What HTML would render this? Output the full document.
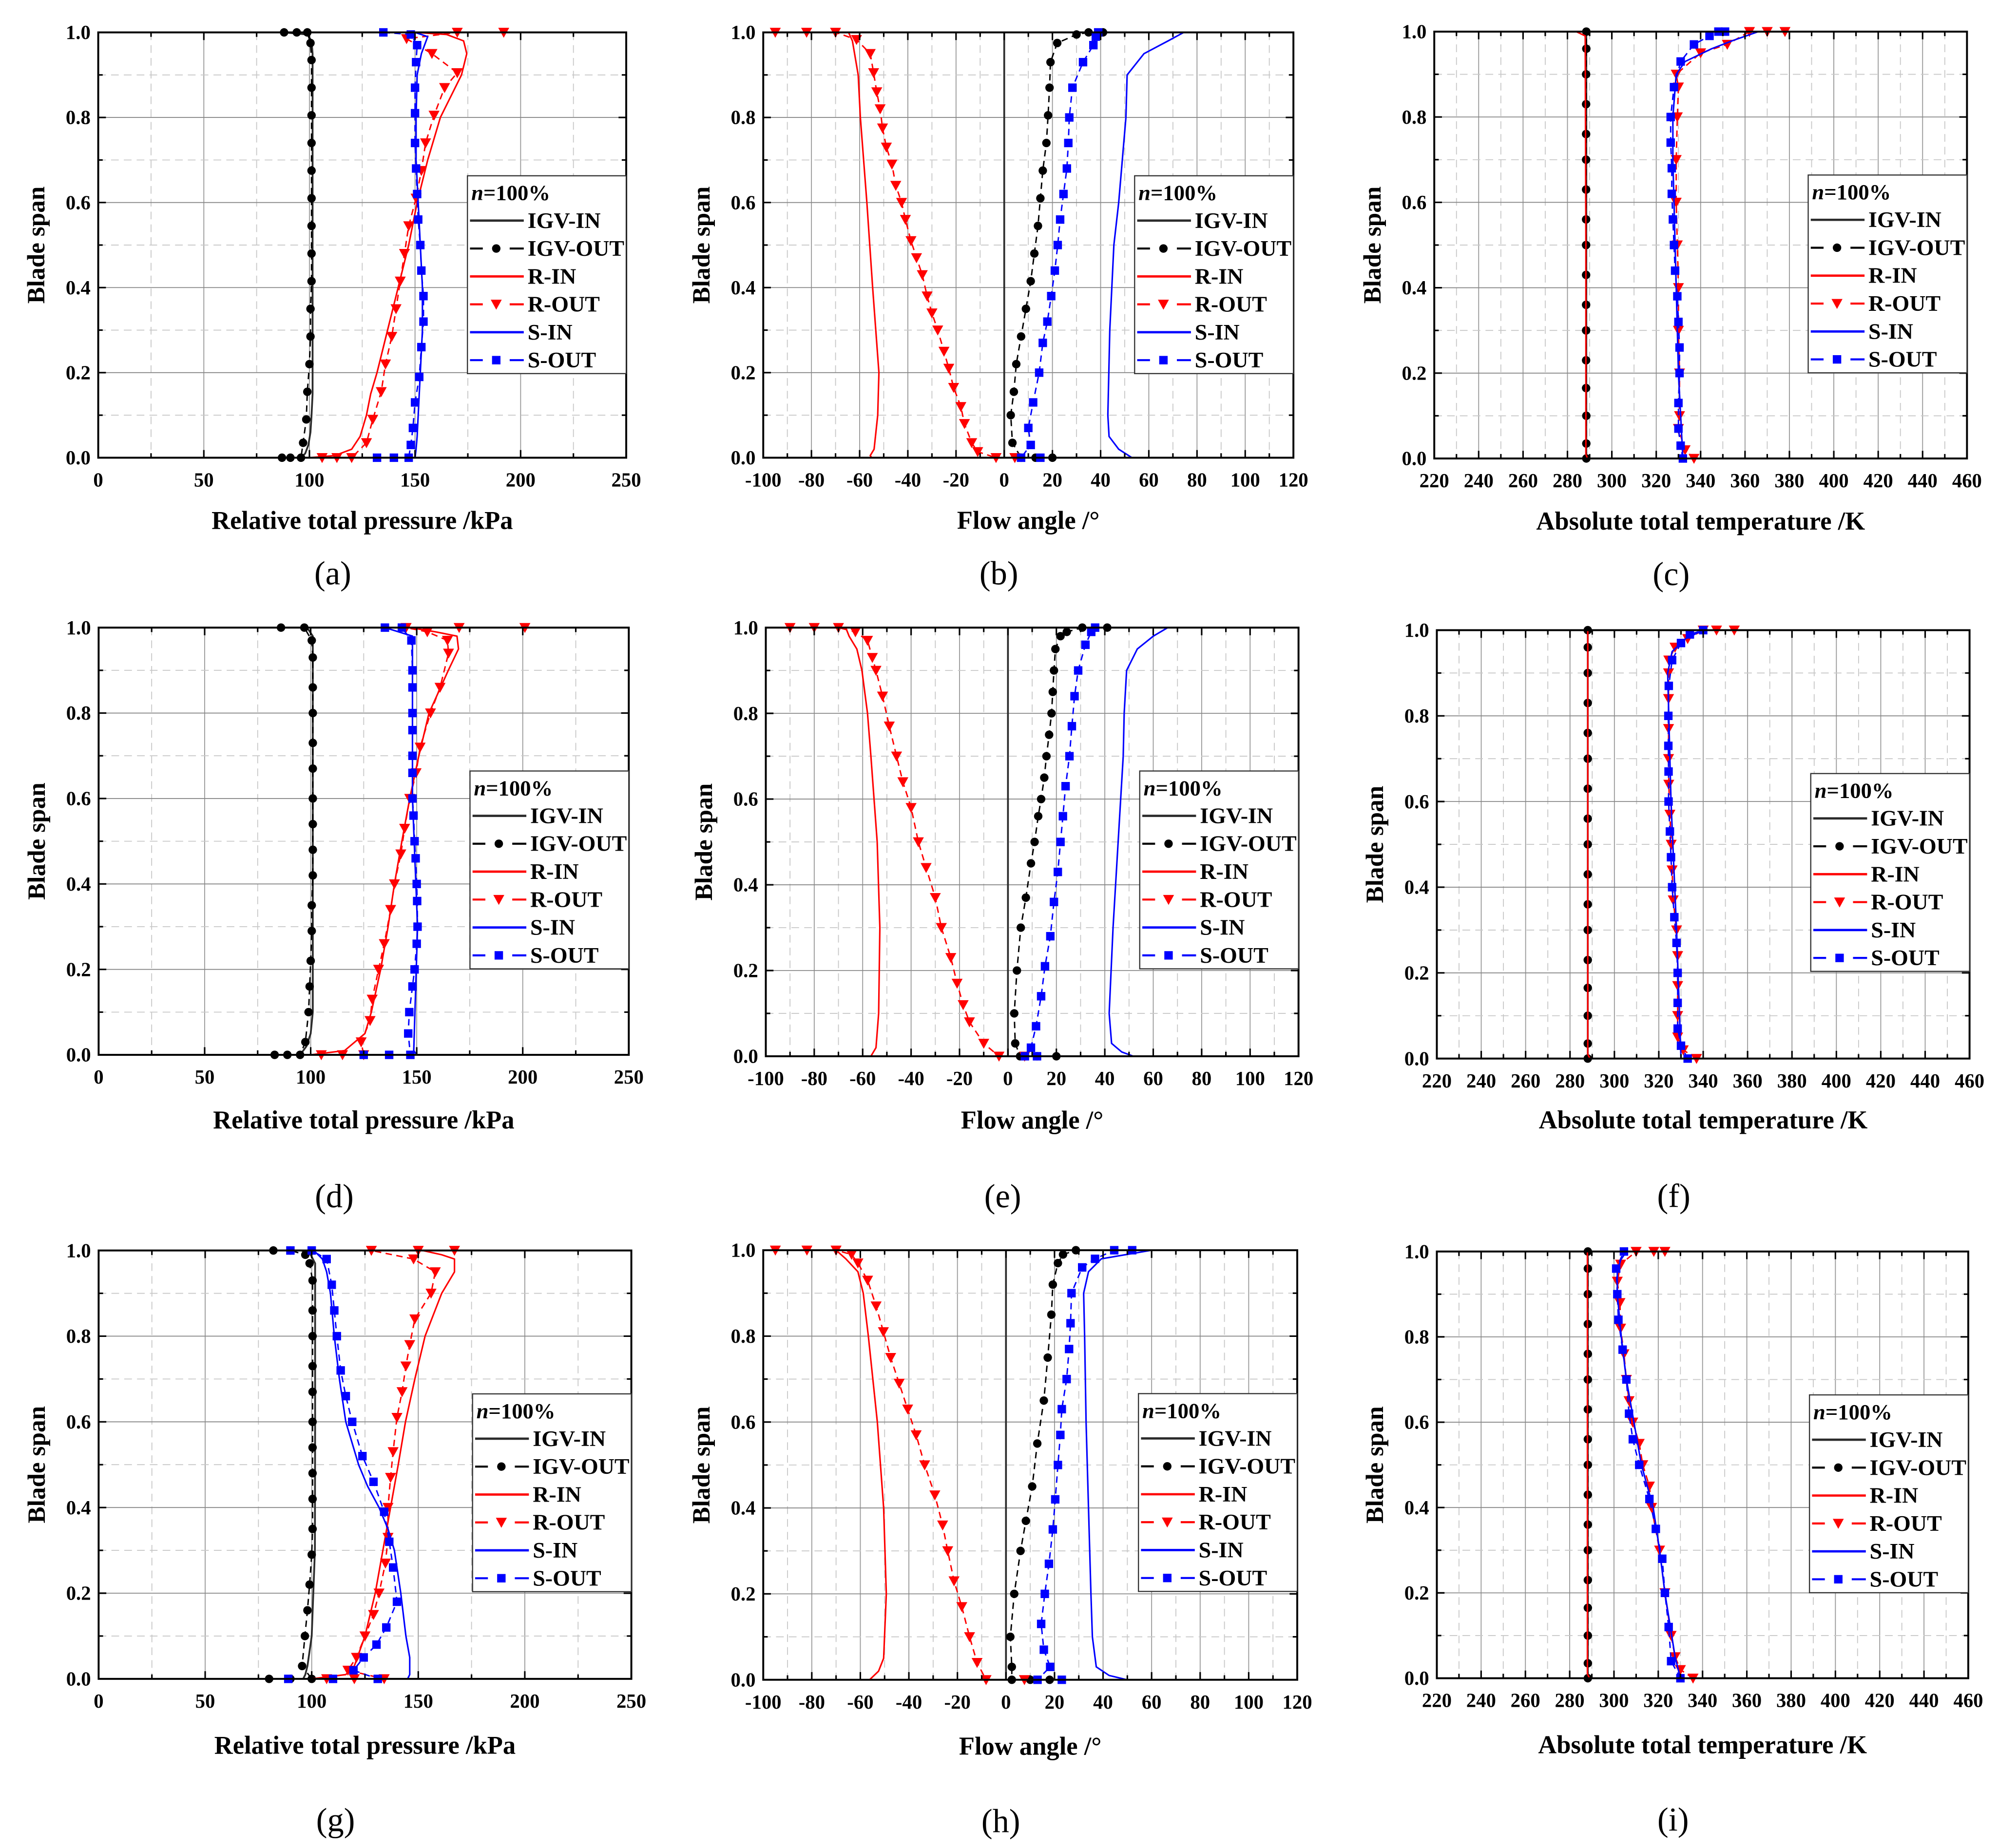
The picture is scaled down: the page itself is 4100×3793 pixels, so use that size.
<!DOCTYPE html>
<html><head><meta charset="utf-8"><title>Blade span profiles</title>
<style>
html,body{margin:0;padding:0;background:#fff;}
svg{display:block;font-family:"Liberation Serif","Times New Roman",serif;}
</style></head>
<body>
<svg id="fig" xmlns="http://www.w3.org/2000/svg" width="4100" height="3793" viewBox="0 0 1560.2 1443.4"></svg>
<script>
// ---------- shared tick arrays ----------
const spanTicks=[0,0.2,0.4,0.6,0.8,1.0];
const spanMinor=[0.1,0.3,0.5,0.7,0.9];
const pressTicks=[0,50,100,150,200,250];
const pressMinor=[25,75,125,175,225];
const angleTicks=[-100,-80,-60,-40,-20,0,20,40,60,80,100,120];
const angleMinor=[-90,-70,-50,-30,-10,10,30,50,70,90,110];
const tempTicks=[220,240,260,280,300,320,340,360,380,400,420,440,460];
const tempMinor=[230,250,270,290,310,330,350,370,390,410,430,450];
const seriesNames=["IGV-IN","IGV-OUT","R-IN","R-OUT","S-IN","S-OUT"];
const outSpan16=[0,0.035,0.1,0.165,0.23,0.3,0.36,0.43,0.5,0.56,0.63,0.7,0.76,0.83,0.9,0.96,1];

// ---------- panel (a) ----------
const aIgvInSpan=[0,0.01,0.03,0.06,0.1,0.15,0.2,0.4,0.6,0.8,0.95,0.98,0.995,1];
const aIgvInVal=[96,98,99.5,100.5,101,101.5,101.5,101.5,101.5,101.5,101.5,101,99,88];
const aIgvOutSpan=[0,0,0,0.035,0.09,0.155,0.22,0.285,0.35,0.415,0.48,0.545,0.61,0.675,0.74,0.805,0.87,0.935,0.975,1,1,1];
const aIgvOutVal=[87,91,96,97,98.5,99,100,100.5,100.5,101,101,101,101,101,101,101,101,101,100.5,99,94,88];
const aRInSpan=[0,0.005,0.02,0.05,0.1,0.15,0.2,0.3,0.4,0.5,0.6,0.7,0.8,0.9,0.95,0.98,0.995,1,1];
const aRInVal=[100,112,120,124,127,129,132,137,142,147,151,156,162,172,174.5,173,165,150,120];
const aROutSpan=[0,0,0,0.035,0.09,0.155,0.22,0.285,0.35,0.415,0.48,0.545,0.61,0.675,0.74,0.805,0.87,0.905,0.95,0.985,1,1];
const aROutVal=[106,113,120,127,130,134,136,139,141,143,145,147,150.5,153,155,159,164,170,158,146,170,192];
const aSInSpan=[0,0.02,0.05,0.1,0.2,0.3,0.4,0.5,0.6,0.7,0.8,0.9,0.95,0.99,1,1];
const aSInVal=[150,150.5,151,151.5,152.5,153.5,153.5,152.5,151.5,150.5,150.5,151,153,156,150,120];
const aSOutSpan=[0,0,0,0.03,0.07,0.13,0.19,0.26,0.32,0.38,0.44,0.5,0.56,0.62,0.68,0.74,0.81,0.87,0.93,0.97,0.995,1];
const aSOutVal=[132,140,147,148,149,150,152,153,154,154,153,152.5,151.5,151,150.5,150,150,150,150.5,151,148,135];

// ---------- panel (b) ----------
const bIgvInSpan=[0,1];
const bIgvInVal=[0,0];
const bIgvOutSpan=[0,0,0,0.035,0.1,0.155,0.22,0.285,0.35,0.415,0.48,0.545,0.61,0.675,0.74,0.805,0.87,0.93,0.975,0.995,1,1];
const bIgvOutVal=[20,13,7,3.4,2.7,4,5,7,9,11,12.5,14,15,16,17.5,18.2,18.8,19.2,22,30,35,41];
const bRInSpan=[0,0,0.005,0.02,0.1,0.2,0.4,0.6,0.8,0.9,0.98,1,1];
const bRInVal=[-29,-55,-55.6,-54,-52.5,-52,-54.6,-57,-59.7,-60.6,-63,-64.6,-95];
const bROutSpan=[0,0,0.014,0.035,0.08,0.12,0.165,0.21,0.25,0.3,0.34,0.38,0.43,0.47,0.51,0.56,0.6,0.64,0.69,0.73,0.775,0.82,0.86,0.905,0.95,0.983,1,1,1];
const bROutVal=[4.4,-3.4,-11,-13.5,-16.5,-18,-21,-23,-25,-27.6,-30,-32,-34,-36.4,-38.7,-41,-42.6,-45,-46.6,-48.9,-50.5,-51.5,-52.9,-54.2,-55.6,-61.3,-70,-82,-95];
const bSInSpan=[0,0.02,0.05,0.1,0.3,0.5,0.6,0.7,0.8,0.9,0.95,0.98,1,1];
const bSInVal=[53,47.5,43.5,43,43.8,45.5,47.5,49,50.5,51,58,68,74.5,65];
const bSOutSpan=[0,0,0.03,0.07,0.13,0.2,0.27,0.32,0.38,0.44,0.5,0.56,0.62,0.68,0.74,0.8,0.87,0.93,0.97,0.99,1];
const bSOutVal=[15,7,11,10,12,14.5,16,17.9,19.5,21,22.2,23.2,24.6,26,26.6,27,28.3,32.7,37,38,39];

// ---------- panel (c) ----------
const cIgvInSpan=[0,1];
const cIgvInVal=[288.5,288.5];
const cIgvOutSpan=outSpan16;
const cIgvOutVal=[288.5,288.5,288.5,288.4,288.4,288.4,288.4,288.4,288.4,288.4,288.4,288.4,288.4,288.4,288.4,288.5,288.5];
const cRInSpan=[0,0,0.01,0.5,0.99,1];
const cRInVal=[311,289,288.3,288.3,288,284];
const cROutSpan=[0,0.02,0.07,0.1,0.2,0.3,0.4,0.5,0.6,0.7,0.8,0.87,0.9,0.95,0.97,1,1,1];
const cROutVal=[337,333,330,330.5,330.5,330,330,329.5,329,329,329.5,330,329,340,352,362,370,378];
const cSInSpan=[0,0.2,0.5,0.7,0.8,0.9,0.93,0.96,0.98,1];
const cSInVal=[332,330,328.5,327.5,327.5,329,333,345,355,366];
const cSOutSpan=[0,0.03,0.07,0.13,0.2,0.26,0.32,0.38,0.44,0.5,0.56,0.62,0.68,0.74,0.8,0.87,0.93,0.97,0.99,1,1];
const cSOutVal=[332,331,330,330,330.5,330.5,330,329.5,328.5,328,327.5,327,327,326.5,326.5,328,331,337,344,348,351];

// ---------- panel (d) ----------
const dIgvInSpan=[0,0.02,0.05,0.1,0.3,0.6,0.9,0.98,0.995,1,1];
const dIgvInVal=[95,98,100,101,101,101,101,101,99,97,85];
const dIgvOutSpan=[0,0,0,0.03,0.1,0.16,0.22,0.29,0.35,0.42,0.48,0.54,0.6,0.67,0.73,0.8,0.86,0.93,0.97,1,1];
const dIgvOutVal=[83,89,95,97.5,99,99.5,100,100.5,100.5,101,101,101,101,101,101,101,101,101,100.5,97,86];
const dRInSpan=[0,0.01,0.05,0.1,0.2,0.3,0.4,0.5,0.6,0.7,0.8,0.9,0.95,0.98,0.99,1];
const dRInVal=[100,116,125.6,128.6,133,136.5,139.5,143,146.7,151,155.8,164.9,169.7,169,159,147];
const dROutSpan=[0,0,0,0.03,0.08,0.13,0.2,0.26,0.34,0.4,0.47,0.53,0.6,0.66,0.72,0.8,0.86,0.94,0.97,0.99,1,1,1];
const dROutVal=[105,115,125,123.8,128,129,132,134.7,137.7,139.5,142.5,144.3,146.7,149.7,151.6,156.5,161,165,164.5,155,145,170,201];
const dSInSpan=[0,0.01,0.3,0.6,0.9,0.98,1,1];
const dSInVal=[150,148.6,150.4,148,148,148,135,117];
const dSOutSpan=[0,0,0,0.05,0.1,0.16,0.2,0.26,0.3,0.36,0.4,0.46,0.5,0.56,0.6,0.66,0.7,0.76,0.8,0.86,0.9,0.97,1,1];
const dSOutVal=[125,137,147,146,146.5,148,149,150,150.4,150.2,150,149.5,149,148.5,148,148,148,148,148,148,148,147.5,143,135];

// ---------- panel (e) ----------
const eIgvInSpan=[0,1];
const eIgvInVal=[0,0];
const eIgvOutSpan=[0,0,0,0.03,0.1,0.2,0.3,0.37,0.45,0.5,0.56,0.6,0.65,0.7,0.75,0.8,0.85,0.9,0.95,0.98,0.99,1,1];
const eIgvOutVal=[20,12,5,3,2.6,3.7,5.3,7.4,9.5,11,12.5,13.7,15,15.9,17,18,18.5,19,19.6,21.7,24.3,30.7,41];
const eRInSpan=[0,0,0.02,0.1,0.3,0.5,0.7,0.8,0.9,0.95,0.98,1,1];
const eRInVal=[-40.7,-56.6,-54.5,-53.4,-52.9,-54,-56.6,-58,-60.3,-62.4,-65.6,-67,-90];
const eROutSpan=[0,0,0.03,0.08,0.12,0.17,0.23,0.3,0.37,0.44,0.5,0.58,0.64,0.7,0.77,0.84,0.9,0.93,0.97,0.99,1,1,1];
const eROutVal=[6.9,-3.7,-10,-15.9,-18.5,-21,-23.6,-27.5,-30,-33.8,-37,-40,-43.4,-46,-49,-51.8,-54.5,-56,-58,-63,-70,-80,-90];
const eSInSpan=[0,0.01,0.03,0.1,0.3,0.5,0.7,0.8,0.9,0.95,0.98,1];
const eSInVal=[51.8,47,42.8,41.8,43.4,45.5,47.6,48,49,53.4,60,66];
const eSOutSpan=[0,0,0.02,0.07,0.14,0.21,0.28,0.36,0.43,0.5,0.56,0.63,0.7,0.77,0.84,0.9,0.96,0.99,1];
const eSOutVal=[12,7,9.5,11.6,13.7,15.3,17.5,19,20.6,21.7,22.7,23.8,25.4,26.4,27.5,29,32,34.4,36];

// ---------- panel (f) ----------
const fIgvInSpan=[0,1];
const fIgvInVal=[288,288];
const fIgvOutSpan=outSpan16;
const fIgvOutVal=[288,288,288,288,288,288,288,288,288,288,288,288,288,288,288,288,288];
const fRInSpan=[0,0,0.01,0.5,1];
const fRInVal=[306.5,289,288,288,288];
const fROutSpan=[0,0.02,0.05,0.1,0.17,0.24,0.3,0.37,0.44,0.5,0.57,0.64,0.7,0.77,0.84,0.9,0.93,0.96,0.98,1,1,1];
const fROutVal=[337,331,328.5,328.5,328.5,328.5,328,326.5,326,325.6,325,324.5,324.4,324.4,324.4,324.4,324.5,327.3,333,340,346,354];
const fSInSpan=[0,0.3,0.6,0.9,0.95,0.98,1];
const fSInVal=[330,328,325.5,324,326,332,340];
const fSOutSpan=[0,0.03,0.07,0.13,0.2,0.27,0.33,0.4,0.47,0.53,0.6,0.67,0.73,0.8,0.87,0.93,0.97,0.99,1];
const fSOutVal=[333,330,328.5,328.5,328.5,328,327,326,325.5,325,324.4,324.4,324.3,324.3,324.5,326,330,334,340];

// ---------- panel (g) ----------
const gIgvInSpan=[0,0.01,0.03,0.1,0.3,0.6,0.9,0.97,0.995,1,1];
const gIgvInVal=[96,97,98,100,101.5,101.6,101.6,101.6,99,95,80];
const gIgvOutSpan=[0,0,0,0.03,0.1,0.16,0.22,0.29,0.35,0.42,0.48,0.54,0.6,0.67,0.73,0.8,0.86,0.93,0.97,0.99,1,1];
const gIgvOutVal=[80,90,100,95.5,96.8,98,99,100,100.4,100.4,100.4,100.4,100.4,100.4,100.4,100.4,100.4,100.4,99,97,90,82];
const gRInSpan=[0,0.01,0.03,0.1,0.2,0.3,0.4,0.5,0.6,0.7,0.8,0.9,0.95,0.98,0.99,1];
const gRInVal=[100,116,120,125,129.8,133.4,137,140.6,144,148.4,153.2,161,167,167,161,152];
const gROutSpan=[0,0,0,0.02,0.05,0.1,0.15,0.2,0.27,0.33,0.4,0.47,0.53,0.61,0.67,0.73,0.78,0.84,0.9,0.95,0.98,1,1,1];
const gROutVal=[107,120,134,117,121,125,129,131.6,134.6,135.8,135.8,137,138.2,140,142.4,144.2,146,148.4,156,158,147.8,128,150,167];
const gSInSpan=[0,0.01,0.05,0.1,0.2,0.3,0.35,0.4,0.45,0.5,0.6,0.7,0.8,0.9,0.95,0.98,1,1];
const gSInVal=[145,146,146,144.2,141.8,138.8,135.8,131.6,126.2,122,116,113,110.6,108.8,107,105,101,85];
const gSOutSpan=[0,0,0,0.02,0.05,0.08,0.12,0.18,0.26,0.32,0.39,0.46,0.52,0.6,0.66,0.72,0.8,0.86,0.92,0.98,1,1];
const gSOutVal=[89,110,131,119.6,124.4,130.4,135,140,138.2,136.4,134,129,123.8,119,116,113.6,111.8,110.6,109.4,107,100,90];

// ---------- panel (h) ----------
const hIgvInSpan=[0,1];
const hIgvInVal=[0,0];
const hIgvOutSpan=[0,0,0,0.03,0.1,0.2,0.3,0.37,0.45,0.55,0.65,0.75,0.85,0.92,0.97,0.99,1];
const hIgvOutVal=[18,10,2.4,2.4,1.8,3.4,6,8.2,10.8,12.9,15.6,17.2,18.7,19.3,21.4,23.5,28.8];
const hRInSpan=[0,0,0.02,0.05,0.2,0.4,0.6,0.8,0.9,0.95,0.98,1,1];
const hRInVal=[-45,-56.2,-52.5,-50.4,-49.3,-50.4,-53,-56.7,-58.8,-61,-66,-70,-95];
const hROutSpan=[0,0,0.04,0.1,0.17,0.23,0.3,0.36,0.43,0.5,0.57,0.63,0.69,0.75,0.81,0.87,0.93,0.97,0.99,1,1,1];
const hROutVal=[7.6,-8.2,-11.9,-15,-18.2,-21.4,-24,-26.1,-29.3,-33.5,-37,-40.5,-44,-47.5,-50.5,-53.5,-57,-61,-63.6,-70,-82,-95];
const hSInSpan=[0,0.01,0.03,0.1,0.2,0.4,0.6,0.8,0.9,0.95,0.98,1];
const hSInVal=[49.8,42.5,37.2,35.6,35,34,33,32.4,32,34,39.3,60];
const hSOutSpan=[0,0,0.03,0.07,0.13,0.2,0.27,0.35,0.42,0.5,0.57,0.63,0.7,0.77,0.83,0.9,0.96,0.98,1,1];
const hSOutVal=[23,13,18.2,15.6,14.5,16,17.7,19.3,20.3,21.4,22.4,23,25,26,26.6,27,31.4,36.7,44.6,52];

// ---------- panel (i) ----------
const iIgvInSpan=[0,1];
const iIgvInVal=[288.2,288.2];
const iIgvOutSpan=outSpan16;
const iIgvOutVal=[288.2,288.2,288.2,288.2,288.2,288.2,288.2,288.2,288.2,288.2,288.2,288.2,288.2,288.2,288.2,288.2,288.2];
const iRInSpan=[0,0,0.01,0.5,1];
const iRInVal=[302.7,289,288,288,288];
const iROutSpan=[0,0.02,0.05,0.1,0.2,0.3,0.4,0.45,0.5,0.55,0.6,0.65,0.7,0.76,0.82,0.88,0.93,0.97,1,1,1];
const iROutVal=[335.7,330,327.6,325.8,323,320.6,317,316,313,311.4,308.5,306.8,305.6,304.5,303,302.7,301.5,303,310,318,323];
const iSInSpan=[0,0.05,0.2,0.3,0.4,0.5,0.6,0.7,0.8,0.9,0.95,0.98,1];
const iSInVal=[330,327.6,323,320.6,317.7,312.4,309,305.6,303.3,301.5,301.5,303,305.6];
const iSOutSpan=[0,0.04,0.12,0.2,0.28,0.35,0.42,0.5,0.56,0.62,0.7,0.77,0.84,0.9,0.96,1];
const iSOutVal=[330,325.8,324.7,323,321.8,318.9,316,311.4,308.5,306.8,305.6,303.9,302,301.5,301,304.5];

const NS="http://www.w3.org/2000/svg";
const svg=document.getElementById("fig");
function mk(tag,parent){const e=document.createElementNS(NS,tag);parent.appendChild(e);return e;}
function at(e,o){for(const k in o)e.setAttribute(k,o[k]);return e;}

const PRESS={min:0,max:250,ticks:pressTicks,minor:pressMinor,title:"Relative total pressure /kPa"};
const ANGLE={min:-100,max:120,ticks:angleTicks,minor:angleMinor,title:"Flow angle /\u00B0"};
const TEMP={min:220,max:460,ticks:tempTicks,minor:tempMinor,title:"Absolute total temperature /K"};

const panels=[
 {id:"a",ax:PRESS,x0:76.7,x1:489,y0:25.3,y1:357.5,tY:49,lY:90,d:[[aIgvInSpan,aIgvInVal],[aIgvOutSpan,aIgvOutVal],[aRInSpan,aRInVal],[aROutSpan,aROutVal],[aSInSpan,aSInVal],[aSOutSpan,aSOutVal]]},
 {id:"b",ax:ANGLE,x0:596,x1:1010,y0:25.3,y1:357.5,tY:49,lY:90,d:[[bIgvInSpan,bIgvInVal],[bIgvOutSpan,bIgvOutVal],[bRInSpan,bRInVal],[bROutSpan,bROutVal],[bSInSpan,bSInVal],[bSOutSpan,bSOutVal]]},
 {id:"c",ax:TEMP,x0:1120,x1:1536,y0:24.7,y1:358.1,tY:49,lY:90,d:[[cIgvInSpan,cIgvInVal],[cIgvOutSpan,cIgvOutVal],[cRInSpan,cRInVal],[cROutSpan,cROutVal],[cSInSpan,cSInVal],[cSOutSpan,cSOutVal]]},
 {id:"d",ax:PRESS,x0:77,x1:491,y0:490.2,y1:823.9,tY:51,lY:110,d:[[dIgvInSpan,dIgvInVal],[dIgvOutSpan,dIgvOutVal],[dRInSpan,dRInVal],[dROutSpan,dROutVal],[dSInSpan,dSInVal],[dSOutSpan,dSOutVal]]},
 {id:"e",ax:ANGLE,x0:598,x1:1014,y0:490.2,y1:825,tY:50,lY:109,d:[[eIgvInSpan,eIgvInVal],[eIgvOutSpan,eIgvOutVal],[eRInSpan,eRInVal],[eROutSpan,eROutVal],[eSInSpan,eSInVal],[eSOutSpan,eSOutVal]]},
 {id:"f",ax:TEMP,x0:1122,x1:1538,y0:492.2,y1:826.8,tY:48,lY:107,d:[[fIgvInSpan,fIgvInVal],[fIgvOutSpan,fIgvOutVal],[fRInSpan,fRInVal],[fROutSpan,fROutVal],[fSInSpan,fSInVal],[fSOutSpan,fSOutVal]]},
 {id:"g",ax:PRESS,x0:77,x1:493,y0:976.7,y1:1311.3,tY:52,lY:110,d:[[gIgvInSpan,gIgvInVal],[gIgvOutSpan,gIgvOutVal],[gRInSpan,gRInVal],[gROutSpan,gROutVal],[gSInSpan,gSInVal],[gSOutSpan,gSOutVal]]},
 {id:"h",ax:ANGLE,x0:596,x1:1013,y0:976.5,y1:1312,tY:52,lY:110,d:[[hIgvInSpan,hIgvInVal],[hIgvOutSpan,hIgvOutVal],[hRInSpan,hRInVal],[hROutSpan,hROutVal],[hSInSpan,hSInVal],[hSOutSpan,hSOutVal]]},
 {id:"i",ax:TEMP,x0:1122,x1:1537,y0:977.5,y1:1310.8,tY:52,lY:110,d:[[iIgvInSpan,iIgvInVal],[iIgvOutSpan,iIgvOutVal],[iRInSpan,iRInVal],[iROutSpan,iROutVal],[iSInSpan,iSInVal],[iSOutSpan,iSOutVal]]}
];

const styles=[
 {color:"#2b2b2b",dash:null,marker:null,w:1.4},
 {color:"#000",dash:"5,3.5",marker:"circle",w:1.1},
 {color:"#ff0000",dash:null,marker:null,w:1.2},
 {color:"#ff0000",dash:"5,3.5",marker:"tri",w:1.1},
 {color:"#0000ff",dash:null,marker:null,w:1.2},
 {color:"#0000ff",dash:"5,3.5",marker:"square",w:1.1}
];

function drawMarker(g,type,x,y,color){
  let m;
  if(type==="circle"){m=mk("circle",g);at(m,{cx:x,cy:y,r:3.3,fill:color});}
  else if(type==="tri"){m=mk("polygon",g);at(m,{points:(x-4.3)+","+(y-3.6)+" "+(x+4.3)+","+(y-3.6)+" "+x+","+(y+4.2),fill:color});}
  else {m=mk("rect",g);at(m,{x:x-3.3,y:y-3.3,width:6.6,height:6.6,fill:color});}
  return m;
}

panels.forEach(p=>{
  const ax=p.ax;
  const sx=v=>p.x0+(v-ax.min)/(ax.max-ax.min)*(p.x1-p.x0);
  const sy=s=>p.y1-s*(p.y1-p.y0);
  const g=mk("g",svg);
  
  

  const grid=mk("g",g);
  
  
  ax.minor.forEach(v=>{const l=mk("line",grid);at(l,{x1:sx(v),x2:sx(v),y1:p.y0,y2:p.y1,stroke:"#c8c8c8","stroke-width":0.7,"stroke-dasharray":"6,4"});});
  ax.ticks.forEach(v=>{if(v===ax.min||v===ax.max)return;const l=mk("line",grid);at(l,{x1:sx(v),x2:sx(v),y1:p.y0,y2:p.y1,stroke:"#999","stroke-width":0.7});});
  spanMinor.forEach(v=>{const l=mk("line",grid);at(l,{x1:p.x0,x2:p.x1,y1:sy(v),y2:sy(v),stroke:"#c8c8c8","stroke-width":0.7,"stroke-dasharray":"6,4"});});
  spanTicks.forEach(v=>{if(v===0||v===1)return;const l=mk("line",grid);at(l,{x1:p.x0,x2:p.x1,y1:sy(v),y2:sy(v),stroke:"#888","stroke-width":0.7});});

  p.d.forEach((pair,k)=>{
    const st=styles[k];
    const sg=mk("g",g);
    
    
    const spans=pair[0],vals=pair[1];
    const pts=spans.map((s,i)=>sx(vals[i]).toFixed(2)+","+sy(s).toFixed(2)).join(" ");
    const pl=mk("polyline",sg);
    at(pl,{points:pts,fill:"none",stroke:st.color,"stroke-width":st.w,"stroke-linejoin":"round"});
    if(st.dash)pl.setAttribute("stroke-dasharray",st.dash);
    
    
    if(st.marker){
      spans.forEach((s,i)=>{
        const m=drawMarker(sg,st.marker,sx(vals[i]),sy(s),st.color);
        
        
      });
    }
  });

  const fr=mk("rect",g);
  at(fr,{x:p.x0,y:p.y0,width:p.x1-p.x0,height:p.y1-p.y0,fill:"none",stroke:"#000","stroke-width":1.5});
  
  
  const tk=mk("g",g);
  
  
  const tl=(x1,y1,x2,y2)=>{const l=mk("line",tk);at(l,{x1:x1,y1:y1,x2:x2,y2:y2,stroke:"#000","stroke-width":1.2});};
  spanTicks.forEach(v=>{tl(p.x0,sy(v),p.x0+6,sy(v));tl(p.x1,sy(v),p.x1-6,sy(v));});
  spanMinor.forEach(v=>{tl(p.x0,sy(v),p.x0+3.5,sy(v));tl(p.x1,sy(v),p.x1-3.5,sy(v));});
  ax.ticks.forEach(v=>{tl(sx(v),p.y1,sx(v),p.y1-6);tl(sx(v),p.y0,sx(v),p.y0+6);});
  ax.minor.forEach(v=>{tl(sx(v),p.y1,sx(v),p.y1-3.5);tl(sx(v),p.y0,sx(v),p.y0+3.5);});

  spanTicks.forEach(v=>{
    const t=mk("text",g);
    at(t,{x:p.x0-6,y:sy(v)+5.2,"text-anchor":"end","font-size":15.5,"font-weight":"bold"});
    t.textContent=v.toFixed(1);
    
    
  });
  ax.ticks.forEach(v=>{
    const t=mk("text",g);
    at(t,{x:sx(v),y:p.y1+22.5,"text-anchor":"middle","font-size":15.5,"font-weight":"bold"});
    t.textContent=String(v);
    
    
  });

  const yt=mk("text",g);
  const ycx=p.x0-48.5, ycy=(p.y0+p.y1)/2;
  at(yt,{x:ycx,y:ycy,"text-anchor":"middle","font-size":19.5,"font-weight":"bold",transform:"rotate(-90 "+ycx+" "+ycy+") translate(0 6.5)"});
  yt.textContent="Blade span";
  
  
  const xt=mk("text",g);
  at(xt,{x:(p.x0+p.x1)/2,y:p.y1+p.tY+6.5,"text-anchor":"middle","font-size":20,"font-weight":"bold"});
  xt.textContent=ax.title;
  
  
  const lt=mk("text",g);
  at(lt,{x:(p.x0+p.x1)/2-23,y:p.y1+p.lY+9,"text-anchor":"middle","font-size":26});
  lt.textContent="("+p.id+")";
  
  

  const lg=mk("g",g);
  
  
  const lx=p.x1-124, ly=p.y0+112;
  const lr=mk("rect",lg);
  at(lr,{x:lx,y:ly,width:124,height:154.5,fill:"#fff",stroke:"#333","stroke-width":0.9});
  const tt=mk("text",lg);
  at(tt,{x:lx+3,y:ly+19,"font-size":17,"font-weight":"bold"});
  const ti=mk("tspan",tt);ti.setAttribute("font-style","italic");ti.textContent="n";
  const tr=mk("tspan",tt);tr.textContent="=100%";
  
  
  seriesNames.forEach((nm,k)=>{
    const st=styles[k];
    const ey=ly+35+k*21.8;
    const eg=mk("g",lg);
    
    
    if(st.dash){
      const l1=mk("line",eg);at(l1,{x1:lx+2,x2:lx+12,y1:ey,y2:ey,stroke:st.color,"stroke-width":1.6});
      const l2=mk("line",eg);at(l2,{x1:lx+33,x2:lx+44,y1:ey,y2:ey,stroke:st.color,"stroke-width":1.6});
      drawMarker(eg,st.marker,lx+22.5,ey,st.color);
    } else {
      const l=mk("line",eg);at(l,{x1:lx+2,x2:lx+44,y1:ey,y2:ey,stroke:st.color,"stroke-width":1.8});
    }
    const t=mk("text",eg);
    at(t,{x:lx+47,y:ey+5.7,"font-size":17.5,"font-weight":"bold"});
    t.textContent=nm;
  });
});
</script>
</body></html>
